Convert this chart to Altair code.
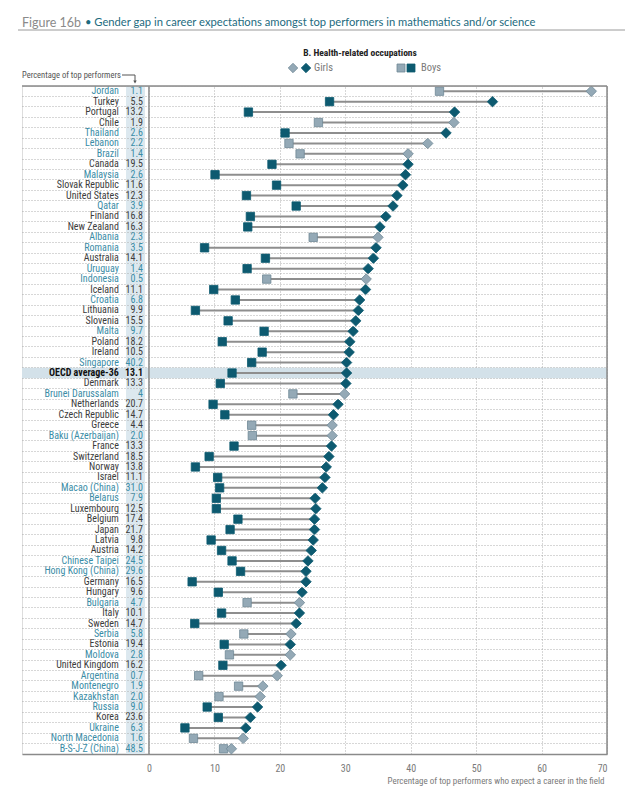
import altair as alt
import pandas as pd

countries = [
    "Jordan", "Turkey", "Portugal", "Chile", "Thailand", "Lebanon", "Brazil", "Canada",
    "Malaysia", "Slovak Republic", "United States", "Qatar", "Finland", "New Zealand",
    "Albania", "Romania", "Australia", "Uruguay", "Indonesia", "Iceland", "Croatia",
    "Lithuania", "Slovenia", "Malta", "Poland", "Ireland", "Singapore", "OECD average-36",
    "Denmark", "Brunei Darussalam", "Netherlands", "Czech Republic", "Greece",
    "Baku (Azerbaijan)", "France", "Switzerland", "Norway", "Israel", "Macao (China)",
    "Belarus", "Luxembourg", "Belgium", "Japan", "Latvia", "Austria", "Chinese Taipei",
    "Hong Kong (China)", "Germany", "Hungary", "Bulgaria", "Italy", "Sweden", "Serbia",
    "Estonia", "Moldova", "United Kingdom", "Argentina", "Montenegro", "Kazakhstan",
    "Russia", "Korea", "Ukraine", "North Macedonia", "B-S-J-Z (China)",
]
pct_labels = [
    "1.1", "5.5", "13.2", "1.9", "2.6", "2.2", "1.4", "19.5", "2.6", "11.6", "12.3", "3.9",
    "16.8", "16.3", "2.3", "3.5", "14.1", "1.4", "0.5", "11.1", "6.8", "9.9", "15.5", "9.7",
    "18.2", "10.5", "40.2", "13.1", "13.3", "4", "20.7", "14.7", "4.4", "2.0", "13.3", "18.5",
    "13.8", "11.1", "31.0", "7.9", "12.5", "17.4", "21.7", "9.8", "14.2", "24.5", "29.6",
    "16.5", "9.6", "4.7", "10.1", "14.7", "5.8", "19.4", "2.8", "16.2", "0.7", "1.9", "2.0",
    "9.0", "23.6", "6.3", "1.6", "48.5",
]
boys = [
    44.4, 27.6, 15.2, 25.9, 20.8, 21.4, 23.1, 18.8, 10.1, 19.5, 14.9, 22.5, 15.5, 15.1,
    25.1, 8.5, 17.8, 15.0, 18.0, 9.9, 13.2, 7.1, 12.1, 17.6, 11.2, 17.3, 15.7, 12.7,
    10.9, 22.0, 9.8, 11.6, 15.7, 15.8, 13.0, 9.2, 7.1, 10.5, 10.8, 10.3, 10.3, 13.6,
    12.4, 9.5, 11.1, 12.7, 14.0, 6.6, 10.6, 15.0, 11.1, 7.0, 14.5, 11.5, 12.3, 11.3,
    7.6, 13.7, 10.7, 8.9, 10.6, 5.5, 6.8, 11.4,
]
girls = [
    67.6, 52.5, 46.7, 46.6, 45.4, 42.6, 39.6, 39.6, 39.2, 38.8, 37.9, 37.3, 36.2, 35.3,
    35.0, 34.7, 34.3, 33.5, 33.2, 33.1, 32.2, 32.0, 31.6, 31.2, 30.7, 30.6, 30.2, 30.2,
    30.1, 29.9, 28.9, 28.2, 28.0, 28.0, 27.9, 27.5, 27.1, 26.9, 26.5, 25.4, 25.5, 25.3,
    25.3, 25.1, 24.8, 24.3, 24.0, 24.0, 23.4, 23.0, 23.0, 22.5, 21.7, 21.6, 21.6, 20.2,
    19.6, 17.4, 17.0, 16.6, 15.5, 14.8, 14.4, 12.6,
]
partner_countries = [
    "Jordan", "Thailand", "Lebanon", "Brazil", "Malaysia", "Qatar", "Albania", "Romania",
    "Uruguay", "Indonesia", "Croatia", "Malta", "Singapore", "Brunei Darussalam",
    "Baku (Azerbaijan)", "Macao (China)", "Belarus", "Chinese Taipei", "Hong Kong (China)",
    "Bulgaria", "Serbia", "Moldova", "Argentina", "Montenegro", "Kazakhstan", "Russia",
    "Ukraine", "North Macedonia", "B-S-J-Z (China)",
]
not_significant = [
    "Jordan", "Chile", "Lebanon", "Brazil", "Albania", "Indonesia", "Brunei Darussalam",
    "Greece", "Baku (Azerbaijan)", "Bulgaria", "Serbia", "Moldova", "Argentina",
    "Montenegro", "Kazakhstan", "North Macedonia", "B-S-J-Z (China)",
]
x_ticks = [0, 10, 20, 30, 40, 50, 60, 70]

df = pd.DataFrame({"country": countries, "pct": pct_labels, "boys": boys, "girls": girls})
df["partner"] = df["country"].isin(partner_countries)
df["sig"] = ~df["country"].isin(not_significant)
df["oecdavg"] = df["country"] == "OECD average-36"

DARK = "#0d5a70"
LIGHT = "#94a9b6"
LIGHT_STROKE = "#6f8896"
TEAL_TXT = "#3a8ca6"
FONT = "Roboto Condensed, Noto Sans Condensed, DejaVu Sans Condensed, Roboto, sans-serif"
XMIN, XMAX = -19.4, 70

W, H = 585, 668

y_enc = alt.Y(
    "country:N", sort=countries,
    scale=alt.Scale(type="band", paddingInner=0, paddingOuter=0),
    axis=alt.Axis(title=None, labels=False, ticks=False, domain=False, grid=True,
                  bandPosition=0, gridDash=[1, 2], gridColor="#9a9a9a", gridWidth=0.8,
                  zindex=1),
)
x_scale = alt.Scale(domain=[XMIN, XMAX], nice=False, zero=False)
x_axis = alt.Axis(values=x_ticks, grid=True, gridDash=[1, 2], gridColor="#9a9a9a",
                  gridWidth=0.8, ticks=False, domainColor="#8a8a8a", domainWidth=1.5,
                  labelColor="#7a7a7a", labelFontSize=10, labelFont=FONT, labelPadding=9,
                  title=None)

base = alt.Chart(df)

oecd_band = base.transform_filter("datum.oecdavg").mark_rect(color="#d3e1e9").encode(
    x=alt.X("x1:Q", scale=x_scale, axis=x_axis), x2="x2:Q", y=y_enc
).transform_calculate(x1=str(XMIN), x2=str(XMAX))

pct_bg = base.mark_rect(color="#dce8ef").encode(
    x=alt.X("x1:Q", scale=x_scale, axis=x_axis), x2="x2:Q", y=y_enc
).transform_calculate(x1="-3.5", x2="-0.6")

connector = base.mark_rule(color="#8e8e8e", strokeWidth=2).encode(
    x=alt.X("boys:Q", scale=x_scale, axis=x_axis), x2="girls:Q", y=y_enc
)

boys_pts = base.mark_point(shape="square", filled=True, size=70, opacity=1).encode(
    x=alt.X("boys:Q", scale=x_scale, axis=x_axis), y=y_enc,
    color=alt.condition("datum.sig", alt.value(DARK), alt.value(LIGHT)),
    stroke=alt.condition("datum.sig", alt.value(DARK), alt.value(LIGHT_STROKE)),
    strokeWidth=alt.value(0.8),
)
girls_pts = base.mark_point(shape="diamond", filled=True, size=110, opacity=1).encode(
    x=alt.X("girls:Q", scale=x_scale, axis=x_axis), y=y_enc,
    color=alt.condition("datum.sig", alt.value(DARK), alt.value(LIGHT)),
    stroke=alt.condition("datum.sig", alt.value(DARK), alt.value(LIGHT_STROKE)),
    strokeWidth=alt.value(0.8),
)

def label_layer(filter_expr, color, weight, field, xpos):
    return base.transform_filter(filter_expr).transform_calculate(xp=str(xpos)).mark_text(
        align="right", baseline="middle", font=FONT, fontSize=10, color=color,
        fontWeight=weight,
    ).encode(x=alt.X("xp:Q", scale=x_scale, axis=x_axis), y=y_enc, text=field)

lab_oecd = label_layer("!datum.partner && !datum.oecdavg", "#3c3c3c", "normal", "country:N", -4.6)
lab_partner = label_layer("datum.partner", TEAL_TXT, "normal", "country:N", -4.6)
lab_avg = label_layer("datum.oecdavg", "#111111", "bold", "country:N", -4.6)
pct_oecd = label_layer("!datum.partner && !datum.oecdavg", "#3c3c3c", "normal", "pct:N", -0.9)
pct_partner = label_layer("datum.partner", TEAL_TXT, "normal", "pct:N", -0.9)
pct_avg = label_layer("datum.oecdavg", "#111111", "bold", "pct:N", -0.9)

frame_df = pd.DataFrame({"v": [0, 70]})
vrules = alt.Chart(frame_df).mark_rule(color="#8a8a8a", strokeWidth=1.5).encode(
    x=alt.X("v:Q", scale=x_scale, axis=x_axis)
)

one = pd.DataFrame({"a": [0]})
top_line = alt.Chart(one).mark_rule(color="#8a8a8a", strokeWidth=1.5).encode(
    x=alt.value(0), x2=alt.value(W), y=alt.value(0)
)

def txt(s, x, y, size, color, weight="normal", align="left", font=FONT):
    return alt.Chart(one).mark_text(
        text=s, align=align, baseline="middle", fontSize=size, color=color,
        fontWeight=weight, font=font,
    ).encode(x=alt.value(x), y=alt.value(y))

def sym(shape, x, y, size, fill, stroke):
    return alt.Chart(one).mark_point(
        shape=shape, filled=True, size=size, color=fill, stroke=stroke, strokeWidth=0.8,
        opacity=1,
    ).encode(x=alt.value(x), y=alt.value(y))

title1 = txt("Figure 16b", 0, -63, 12.5, "#8a8a8a", font="Lato")
title2 = txt("\u2022 Gender gap in career expectations amongst top performers in mathematics and/or science",
             63, -63, 11.2, "#1d6b80", font="Lato")
title_line = alt.Chart(one).mark_rule(color="#9a9a9a", strokeWidth=1).encode(
    x=alt.value(-4), x2=alt.value(603), y=alt.value(-56)
)
subtitle = txt("B. Health-related occupations", 338, -33, 9.5, "#222222", "bold", "center")
leg = [
    sym("diamond", 271, -18, 90, LIGHT, LIGHT_STROKE),
    sym("diamond", 284, -18, 90, DARK, DARK),
    txt("Girls", 292, -18, 10.5, "#7a7a7a"),
    sym("square", 379, -18, 64, LIGHT, LIGHT_STROKE),
    sym("square", 389, -18, 64, DARK, DARK),
    txt("Boys", 399, -18, 10.5, "#7a7a7a"),
]
ptp = txt("Percentage of top performers", 0, -11, 8.5, "#555555")
arrow_h = alt.Chart(one).mark_rule(color="#555555", strokeWidth=1).encode(
    x=alt.value(100), x2=alt.value(113), y=alt.value(-11)
)
arrow_v = alt.Chart(one).mark_rule(color="#555555", strokeWidth=1).encode(
    x=alt.value(113), y=alt.value(-11), y2=alt.value(-4)
)
arrow_tip = alt.Chart(one).mark_point(shape="triangle-down", filled=True, size=12,
                                      color="#555555", opacity=1).encode(
    x=alt.value(113), y=alt.value(-4)
)
x_title = txt("Percentage of top performers who expect a career in the field",
              474, H + 27, 9, "#7a7a7a", align="center")

chart = alt.layer(
    oecd_band, pct_bg, connector, boys_pts, girls_pts,
    lab_oecd, lab_partner, lab_avg, pct_oecd, pct_partner, pct_avg,
    vrules, top_line, title1, title2, title_line, subtitle, *leg,
    ptp, arrow_h, arrow_v, arrow_tip, x_title,
).properties(
    width=W, height=H,
    autosize=alt.AutoSizeParams(type="none"),
    padding={"left": 14, "top": 78, "right": 25, "bottom": 45},
).configure_view(stroke=None).configure(background="white")

chart.save("out.html", embed_options={"renderer": "svg", "actions": False})
